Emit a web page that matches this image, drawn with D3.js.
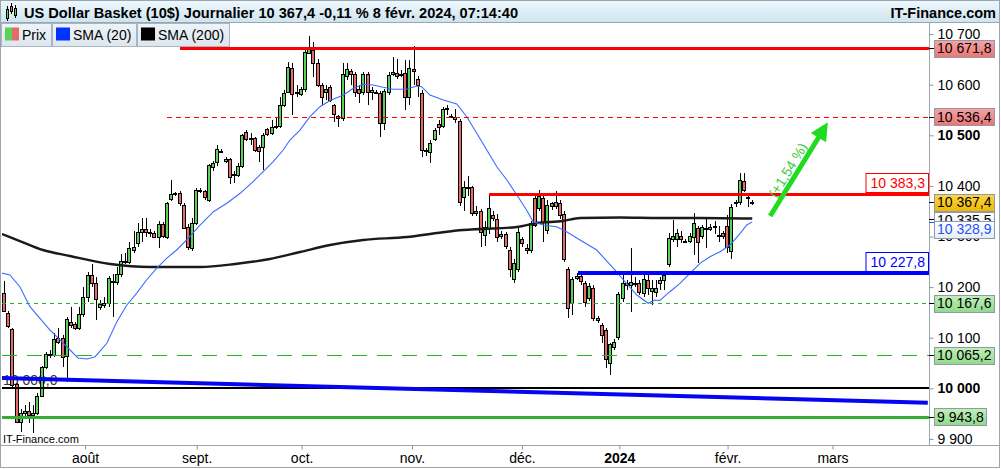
<!DOCTYPE html>
<html>
<head>
<meta charset="utf-8">
<script src="https://cdnjs.cloudflare.com/ajax/libs/d3/7.8.5/d3.min.js"></script>
<style>
  body { margin: 0; background: #fff; }
  svg { display: block; font-family: "Liberation Sans", Arial, sans-serif; }
</style>
</head>
<body>
<div id="chart"></div>
<script>
// daily candles, one slot per trading session (Sun-Fri sessions included)
var opens = [10187.6,10148.2,10117.2,10007.8,9934.0,9950.5,9955.0,9947.2,9950.5,9984.8,
  10041.4,10065.2,10065.2,10100.1,10100.1,10063.8,10131.0,10127.1,10118.5,10146.2,
  10181.1,10223.3,10208.8,10160.0,10164.6,10167.9,10212.7,10209.4,10225.9,10249.0,
  10250.2,10273.3,10286.5,10308.8,10314.0,10308.2,10306.2,10298.3,10324.0,10299.6,
  10374.1,10385.3,10385.3,10362.3,10319.4,10276.6,10326.0,10389.9,10389.9,10372.1,
  10438.0,10447.9,10469.6,10449.9,10452.5,10420.9,10421.6,10439.3,10505.9,10492.0,
  10494.0,10476.2,10476.2,10511.8,10503.9,10517.1,10519.0,10559.2,10586.2,10632.4,
  10583.0,10581.6,10590.8,10663.3,10669.0,10642.3,10599.5,10585.0,10594.8,10559.2,
  10538.7,10533.5,10617.9,10627.1,10620.5,10590.8,10586.2,10620.5,10586.0,10586.2,
  10582.9,10523.6,10586.2,10620.5,10622.5,10621.2,10622.5,10576.4,10630.4,10610.7,
  10583.0,10471.0,10467.7,10492.0,10521.6,10519.0,10553.3,10538.1,10536.8,10528.3,
  10378.8,10397.0,10397.2,10347.1,10351.0,10302.9,10316.1,10342.4,10333.9,10301.0,
  10304.3,10273.3,10215.3,10235.1,10294.4,10277.9,10273.3,10375.4,10355.6,10375.4,
  10313.8,10365.5,10360.3,10365.5,10343.8,10235.1,10167.9,10217.4,10222.6,10208.8,
  10177.8,10197.6,10139.6,10125.1,10115.2,10050.6,10081.0,10100.7,10177.8,10208.8,
  10204.2,10207.5,10207.5,10188.4,10214.0,10192.9,10191.0,10207.4,10214.0,10245.6,
  10294.4,10294.4,10301.0,10291.8,10291.8,10299.7,10316.1,10301.0,10316.1,10314.8,
  10319.4,10302.9,10306.3,10320.7,10272.0,10365.5,10368.8,10409.7,10378.8,10368.0];

var highs = [10212.7,10152.0,10120.0,10010.0,9958.4,9967.0,9973.6,9967.0,9990.1,10045.0,
  10072.0,10075.0,10110.0,10120.0,10105.0,10140.0,10160.0,10132.0,10160.0,10200.0,
  10230.0,10246.0,10220.0,10175.0,10180.0,10222.0,10225.0,10240.0,10265.0,10268.0,
  10290.0,10310.0,10327.3,10336.0,10336.5,10315.0,10310.0,10330.0,10328.0,10368.8,
  10411.7,10388.0,10390.0,10366.0,10325.0,10336.0,10395.0,10395.0,10392.0,10444.0,
  10450.0,10480.9,10472.0,10458.0,10455.0,10430.0,10445.0,10503.0,10509.8,10505.0,
  10497.0,10480.0,10505.0,10515.0,10530.0,10535.0,10575.0,10590.0,10645.0,10642.3,
  10600.0,10596.0,10668.0,10696.3,10685.1,10650.0,10603.0,10600.0,10600.0,10562.0,
  10541.0,10642.3,10643.0,10632.0,10625.0,10600.0,10625.0,10625.0,10596.0,10590.0,
  10588.0,10592.0,10625.0,10655.4,10650.0,10630.0,10648.0,10648.9,10676.4,10618.0,
  10590.0,10475.0,10490.0,10515.0,10530.0,10555.0,10560.0,10542.0,10552.0,10533.0,
  10410.0,10420.0,10400.0,10360.0,10355.0,10330.0,10382.0,10350.0,10345.0,10310.0,
  10308.0,10280.0,10255.0,10320.0,10300.0,10285.0,10330.0,10385.0,10391.9,10385.0,
  10372.0,10368.0,10390.0,10372.0,10350.0,10240.0,10220.0,10228.0,10228.0,10212.0,
  10208.0,10205.0,10142.0,10130.0,10120.0,10090.0,10098.0,10190.0,10232.0,10215.0,
  10276.6,10220.0,10215.0,10225.0,10225.0,10215.0,10215.0,10220.0,10228.5,10306.3,
  10332.6,10315.0,10310.0,10296.0,10306.0,10345.8,10320.0,10322.0,10337.9,10325.0,
  10330.0,10320.0,10311.0,10342.5,10365.0,10372.0,10424.8,10424.8,10383.0,10372.3];

var lows = [10150.0,10120.0,10003.0,9930.8,9914.4,9945.0,9930.8,9911.1,9947.0,9982.0,
  10038.0,10060.0,10062.0,10088.0,10042.8,10013.1,10120.0,10115.0,10115.0,10140.0,
  10170.0,10200.0,10135.0,10155.0,10158.0,10160.0,10141.5,10205.0,10220.0,10245.0,
  10245.0,10268.0,10280.0,10290.0,10300.0,10300.0,10296.3,10276.6,10298.0,10296.0,
  10370.0,10380.0,10360.0,10315.0,10274.0,10272.0,10322.0,10385.0,10372.1,10368.0,
  10430.0,10440.0,10466.0,10445.0,10403.8,10405.0,10418.0,10436.0,10488.0,10480.0,
  10466.3,10447.9,10431.4,10498.0,10500.0,10512.0,10515.0,10555.0,10583.0,10540.1,
  10575.0,10578.0,10585.0,10660.0,10615.9,10595.0,10559.9,10570.0,10565.0,10526.0,
  10516.8,10528.0,10610.0,10600.0,10575.0,10563.0,10580.0,10559.9,10570.0,10582.0,
  10497.4,10510.0,10580.0,10617.0,10612.0,10615.0,10550.0,10560.0,10600.0,10575.0,
  10457.8,10460.0,10446.0,10488.0,10500.0,10515.0,10540.0,10534.0,10525.0,10360.0,
  10350.0,10380.0,10340.0,10340.0,10279.8,10282.0,10305.0,10330.0,10290.0,10295.0,
  10275.0,10220.0,10207.5,10230.0,10280.0,10265.0,10268.0,10318.0,10350.0,10290.0,
  10305.0,10352.0,10355.0,10335.0,10250.0,10138.3,10144.9,10215.0,10205.0,10160.0,
  10172.0,10133.0,10130.0,10088.9,10039.4,10026.3,10075.0,10095.0,10170.0,10195.0,
  10151.4,10200.0,10185.0,10180.0,10185.0,10165.0,10180.0,10195.0,10194.3,10240.4,
  10290.0,10280.0,10288.0,10287.0,10288.0,10263.4,10246.9,10296.0,10276.6,10310.0,
  10305.0,10290.0,10295.0,10266.7,10254.9,10358.0,10362.0,10388.0,10359.0,10362.4];

var closes = [10152.7,10123.1,10006.5,9932.7,9951.8,9955.7,9947.2,9950.5,9984.8,10041.4,
  10067.8,10067.8,10096.8,10092.2,10062.5,10136.3,10124.5,10118.5,10146.8,10181.1,
  10223.3,10208.8,10175.8,10165.9,10167.9,10217.3,10210.1,10225.9,10251.6,10251.6,
  10276.6,10279.9,10309.5,10314.0,10309.5,10306.2,10299.6,10324.0,10301.6,10366.9,
  10383.3,10383.3,10365.6,10317.5,10279.9,10327.3,10391.9,10391.9,10378.7,10441.3,
  10444.6,10472.3,10469.0,10452.5,10416.9,10423.5,10439.3,10500.0,10492.0,10494.0,
  10470.9,10469.6,10500.0,10501.9,10517.1,10519.0,10559.2,10583.0,10634.4,10581.6,
  10586.0,10590.8,10663.9,10669.8,10643.6,10599.5,10576.4,10592.0,10569.8,10541.4,
  10533.5,10620.5,10630.4,10620.5,10584.9,10584.2,10620.5,10586.2,10590.0,10586.2,
  10523.6,10588.2,10619.2,10625.8,10617.9,10621.2,10575.1,10632.4,10627.8,10599.5,
  10471.0,10469.0,10484.2,10510.5,10517.1,10551.3,10553.3,10538.1,10531.6,10367.5,
  10398.5,10398.0,10347.1,10351.0,10308.2,10319.4,10355.6,10335.8,10298.3,10304.9,
  10281.2,10235.1,10246.9,10309.5,10286.5,10273.3,10326.0,10322.7,10380.0,10329.3,
  10361.9,10360.3,10368.8,10342.4,10254.9,10158.0,10215.3,10222.6,10212.7,10171.2,
  10202.2,10138.3,10135.0,10105.3,10057.2,10086.9,10092.2,10185.7,10208.8,10204.2,
  10209.4,10207.5,10191.0,10215.3,10197.6,10197.6,10197.6,10214.0,10223.9,10296.4,
  10301.0,10306.3,10294.4,10291.8,10301.0,10326.0,10288.5,10318.1,10316.1,10319.4,
  10320.7,10302.9,10301.0,10279.9,10359.0,10368.8,10411.7,10391.9,10378.8,10367.4];

// moving averages (slot index, value)
var sma20Idx = [-1,1.4,3.8,6.2,8.6,11,13.4,15.8,17.7,19.9,21.8,24.6,27,29.4,31.7,34.1,36.5,38.9,41.3,43.7,
  46.9,50.1,53.3,56.5,59.6,62,64.4,66.8,68.4,70.8,73.2,75.6,78,81.2,83.6,86,88.3,90.7,93.1,96.3,
  98.7,99.9,101.9,105.1,108.3,110.7,113.1,115.5,117.9,120.3,122.7,125,126.6,129,132.2,134.6,137.8,141.8,145.8,148.2,
  151.4,154.1,155.7,156.9,159.3,161.7,164.1,166.5,168.9,171.3,173.7,176.1,177.7,179];
var sma20Val = [10228.5,10223.9,10200.8,10161.3,10138.3,10115.2,10095.5,10075.7,10059.9,10057.9,10062.5,10088.9,10131.6,10164.6,10187.7,10214,10237.2,10256.9,10273.3,10293.1,
  10322.7,10349,10365.6,10385.4,10408.3,10428.1,10447.8,10470.9,10490.7,10510.4,10536.7,10556.5,10568.8,10579.6,10592.9,10600.8,10599.4,10594.9,10590.9,10590.9,
  10597.4,10596,10579.6,10569.7,10561.8,10536.7,10503.9,10470.9,10437.9,10411.6,10382,10352.3,10329.2,10322.7,10319.4,10309.5,10293.1,10273.3,10237.2,10214,
  10184.4,10168,10174.5,10173.5,10190.9,10207.5,10227.3,10247,10260.1,10270,10283.2,10306.3,10322.7,10328.9];

var sma200Idx = [-0.5,3.8,9.3,15.8,25.4,34.9,46.9,55.3,63.6,70.8,78,85.9,96.4,103.6,109.8,113.9,122.7,127.5,133.7,137.8,147.4,156.9,166.5,179];
var sma200Val = [10304.9,10291,10273.3,10261.4,10245.6,10239.7,10239.7,10245.6,10255.5,10269.3,10283.2,10293.1,10299,10306.9,10312.8,10314.8,10318.8,10326.7,10330.6,10336.5,10337.5,10336.5,10336.5,10335.5];

var monthIdx = [19.4, 46.1, 71.2, 97.6, 123.9, 147.2, 173.1, 198.2];
var monthLabels = ["août", "sept.", "oct.", "nov.", "déc.", "2024", "févr.", "mars"];
var yTicks = [9900, 10000, 10100, 10200, 10300, 10400, 10500, 10600, 10700];

var levels = [10671.8, 10536.4, 10383.3, 10227.8, 10167.6, 10065.2, 10000, 9943.8];
var levelStart = [42.1, 38.9, 116.1, 137.2, -1, -1, -1, -1];

var trendIdx = [-1, 221];
var trendVals = [10020.4, 9971.5];

var arrowIdx = [183.3, 197.1];
var arrowVals = [10340.5, 10525.7];
var arrowText = "(+1,54 %)";

var axisLabelVals = [10671.8, 10536.4, 10367.4, 10335.5, 10328.9, 10167.6, 10065.2, 9943.8];
var axisLabelKinds = ["res", "res", "price", "sma200", "sma20", "sup", "sup", "sup"];

var title = "US Dollar Basket (10$) Journalier 10 367,4 -0,11 % 8 févr. 2024, 07:14:40";

var width = 1001, height = 469;
var plotLeft = 2, plotRight = 929, plotTop = 23, plotBottom = 445;
var green = "#5ad25a", red = "#e56b6b";

var x = d3.scaleLinear().domain([0, 221]).range([4, 927.8]);
var y = d3.scaleLinear().domain([9900, 10700]).range([438.9, 34.1]);

var loc = d3.formatLocale({decimal: ",", thousands: " ", grouping: [3], currency: ["", ""]});
var fmt0 = loc.format(",.0f"), fmt1 = loc.format(",.1f");

var svg = d3.select("#chart").append("svg")
    .attr("width", width)
    .attr("height", height);
var defs = svg.append("defs");

function vgrad(id, c0, c1) {
    var g = defs.append("linearGradient").attr("id", id)
        .attr("x1", 0).attr("y1", 0).attr("x2", 0).attr("y2", 1);
    g.append("stop").attr("offset", "0%").attr("stop-color", c0);
    g.append("stop").attr("offset", "100%").attr("stop-color", c1);
}
vgrad("gHead", "#eef8fd", "#cde4ef");
vgrad("gLeg", "#eef4f8", "#dce6ed");
vgrad("gRed", "#f6a5a5", "#ec7474");
vgrad("gYel", "#fbd54a", "#efb700");
vgrad("gGrn", "#c2efba", "#8fd98a");
vgrad("gWht", "#ffffff", "#e7eef3");

defs.append("clipPath").attr("id", "clip").append("rect")
    .attr("x", plotLeft).attr("y", plotTop)
    .attr("width", plotRight - plotLeft).attr("height", plotBottom - plotTop);

// frame
svg.append("rect").attr("x", 0.5).attr("y", 0.5).attr("width", 999).attr("height", 467)
    .attr("fill", "#fff").attr("stroke", "#9aa6b0");

var plot = svg.append("g").attr("clip-path", "url(#clip)");

plot.append("text").attr("x", 3).attr("y", 385).attr("font-size", 14)
    .attr("fill", "#333").text(fmt1(10000));

// candles
var candles = closes.map(function (c, i) {
    return {i: i, o: opens[i], h: highs[i], l: lows[i], c: c};
});
function px(i) { return Math.round(x(i)) + 0.5; }

plot.append("g").selectAll("line").data(candles).enter().append("line")
    .attr("x1", function (d) { return px(d.i); })
    .attr("x2", function (d) { return px(d.i); })
    .attr("y1", function (d) { return Math.round(y(d.h)); })
    .attr("y2", function (d) { return Math.round(y(d.l)); })
    .attr("stroke", "#000");

plot.append("g").selectAll("rect").data(candles).enter().append("rect")
    .attr("x", function (d) { return px(d.i) - 2; })
    .attr("y", function (d) { return Math.round(y(Math.max(d.o, d.c))) + 0.5; })
    .attr("width", 3)
    .attr("height", function (d) {
        return Math.max(1, Math.round(y(Math.min(d.o, d.c))) - Math.round(y(Math.max(d.o, d.c))));
    })
    .attr("fill", function (d) { return d.c >= d.o ? green : red; })
    .attr("stroke", "#000");

// moving averages
var line = d3.line().x(function (d) { return x(d[0]); }).y(function (d) { return y(d[1]); });
plot.append("path").datum(d3.zip(sma200Idx, sma200Val))
    .attr("d", line.curve(d3.curveMonotoneX))
    .attr("fill", "none").attr("stroke", "#1a1a1a").attr("stroke-width", 2.4);
plot.append("path").datum(d3.zip(sma20Idx, sma20Val))
    .attr("d", line.curve(d3.curveLinear))
    .attr("fill", "none").attr("stroke", "#3b6cff").attr("stroke-width", 1.1);

// horizontal levels
var levelStyle = [
    {c: "#ff0000", w: 3, dash: null},
    {c: "#ff0000", w: 1, dash: "5,4"},
    {c: "#ff0000", w: 3, dash: null},
    {c: "#0000ff", w: 4, dash: null},
    {c: "#22b422", w: 1, dash: "4,4"},
    {c: "#22b422", w: 1, dash: "15,10"},
    {c: "#000000", w: 2, dash: null},
    {c: "#36ad36", w: 3, dash: null}
];
function lineY(v, w) { return w % 2 ? Math.round(y(v)) + 0.5 : Math.round(y(v)); }

plot.append("g").selectAll("line").data(levels).enter().append("line")
    .attr("x1", function (d, k) { return levelStart[k] < 0 ? plotLeft : x(levelStart[k]); })
    .attr("x2", plotRight)
    .attr("y1", function (d, k) { return lineY(d, levelStyle[k].w); })
    .attr("y2", function (d, k) { return lineY(d, levelStyle[k].w); })
    .attr("stroke", function (d, k) { return levelStyle[k].c; })
    .attr("stroke-width", function (d, k) { return levelStyle[k].w; })
    .attr("stroke-dasharray", function (d, k) { return levelStyle[k].dash; })
    .attr("shape-rendering", "crispEdges");

// trend line
plot.append("line")
    .attr("x1", x(trendIdx[0])).attr("y1", y(trendVals[0]))
    .attr("x2", x(trendIdx[1])).attr("y2", y(trendVals[1]))
    .attr("stroke", "#0505f0").attr("stroke-width", 4);

// boxed labels for the two drawn levels
[[2, "#ff0000"], [3, "#0000ff"]].forEach(function (p) {
    var v = levels[p[0]];
    var yl = Math.round(y(v)) - 1;
    var g = svg.append("g");
    var t = g.append("text").attr("x", plotRight - 4).attr("y", yl - 5)
        .attr("text-anchor", "end").attr("font-size", 14).attr("fill", p[1]).text(fmt1(v));
    var tw = t.node().getComputedTextLength();
    g.insert("rect", "text").attr("x", plotRight - tw - 8.5).attr("y", yl - 19.5)
        .attr("width", tw + 8).attr("height", 19)
        .attr("fill", "#fff").attr("stroke", p[1]);
});

// target arrow
var a0 = [x(arrowIdx[0]), y(arrowVals[0])], a1 = [x(arrowIdx[1]), y(arrowVals[1])];
var alen = Math.hypot(a1[0] - a0[0], a1[1] - a0[1]);
var aang = Math.atan2(a1[1] - a0[1], a1[0] - a0[0]) * 180 / Math.PI;
var ag = svg.append("g").attr("transform", "translate(" + a0[0] + "," + a0[1] + ") rotate(" + aang + ")");
ag.append("line").attr("x1", 0).attr("y1", 0).attr("x2", alen - 14).attr("y2", 0)
    .attr("stroke", "#1fdc1f").attr("stroke-width", 5);
ag.append("path").attr("d", "M" + alen + ",0 L" + (alen - 18) + ",-9 L" + (alen - 18) + ",9 Z")
    .attr("fill", "#1fdc1f");
ag.append("text").attr("x", alen * 0.44).attr("y", -4).attr("text-anchor", "middle")
    .attr("font-size", 14).attr("fill", "#3ccc3c").text(arrowText);

// watermark
svg.append("text").attr("x", 3).attr("y", 443).attr("font-size", 11).text("IT-Finance.com");

// axes
svg.append("line").attr("x1", plotRight + 0.5).attr("x2", plotRight + 0.5)
    .attr("y1", plotTop).attr("y2", plotBottom).attr("stroke", "#9aa6b0");
svg.append("line").attr("x1", 1).attr("x2", 999).attr("y1", plotBottom + 0.5).attr("y2", plotBottom + 0.5)
    .attr("stroke", "#9aa6b0");

var ya = svg.append("g").attr("transform", "translate(" + (plotRight + 0.5) + ",0)")
    .call(d3.axisRight(y).tickValues(yTicks).tickSize(4).tickPadding(4).tickFormat(fmt0));
ya.attr("font-family", null).attr("font-size", 14);
ya.select(".domain").remove();
ya.selectAll("line").attr("stroke", "#8796a3");
ya.selectAll("text").attr("fill", "#000")
    .attr("font-weight", function (d) { return (d === 10500 || d === 10000) ? "bold" : null; });

var xa = svg.append("g").attr("transform", "translate(0," + (plotBottom + 0.5) + ")")
    .call(d3.axisBottom(x).tickValues(monthIdx).tickSize(4).tickPadding(4)
        .tickFormat(function (d, i) { return monthLabels[i]; }));
xa.attr("font-family", null).attr("font-size", 14);
xa.select(".domain").remove();
xa.selectAll("line").attr("stroke", "#8796a3");
xa.selectAll("text").attr("fill", "#000")
    .attr("font-weight", function (d, i) { return monthLabels[i] === "2024" ? "bold" : null; });

// value boxes on the price scale
var fills = {res: "url(#gRed)", price: "url(#gYel)", sma200: "url(#gWht)", sma20: "url(#gWht)", sup: "url(#gGrn)"};
var inks = {res: "#000", price: "#000", sma200: "#000", sma20: "#1f4fff", sup: "#000"};
var prevTop = -100, prevKind = null;
axisLabelVals.forEach(function (v, k) {
    var kind = axisLabelKinds[k];
    var top = y(v) - 8.5;
    var gap = prevKind === "price" ? 18 : 9;
    if (prevKind && top < prevTop + gap) top = prevTop + gap;
    prevTop = top; prevKind = kind;
    var g = svg.append("g");
    g.append("line").attr("x1", plotRight).attr("x2", plotRight + 5)
        .attr("y1", Math.round(y(v)) + 0.5).attr("y2", Math.round(y(v)) + 0.5)
        .attr("stroke", kind === "sma20" ? "#1f4fff" : "#000");
    var t = g.append("text").attr("x", 937).attr("y", top + 13.5)
        .attr("font-size", 14).attr("fill", inks[kind]).text(fmt1(v));
    var tw = t.node().getComputedTextLength();
    g.insert("rect", "text").attr("x", 934.5).attr("y", Math.round(top) + 0.5)
        .attr("width", Math.round(tw) + 5).attr("height", 17)
        .attr("fill", fills[kind]).attr("stroke", "#8e9ba6");
});

// header
svg.append("rect").attr("x", 0.5).attr("y", 0.5).attr("width", 999).attr("height", 22)
    .attr("fill", "url(#gHead)").attr("stroke", "#9aa6b0");
var icon = svg.append("g");
[[6, 9, 14, green], [10, 6, 10, red], [14, 8, 12, green]].forEach(function (c) {
    icon.append("line").attr("x1", c[0] + 1.5).attr("x2", c[0] + 1.5).attr("y1", c[1] - 3).attr("y2", c[1] + c[2] - 2)
        .attr("stroke", "#000");
    icon.append("rect").attr("x", c[0] + 0.5).attr("y", c[1] + 0.5).attr("width", 2).attr("height", c[2] - 5)
        .attr("fill", c[3]).attr("stroke", "#000");
});
svg.append("text").attr("x", 24).attr("y", 17.5).attr("font-size", 14.6).attr("font-weight", "bold")
    .text(title);
svg.append("text").attr("x", 996).attr("y", 17.5).attr("font-size", 14.5).attr("font-weight", "bold")
    .attr("text-anchor", "end").text("IT-Finance.com");

// legend
var legNames = ["Prix", "SMA (20)", "SMA (200)"];
var legColors = [null, "#0033ff", "#000"];
var lx = 1.5;
legNames.forEach(function (name, k) {
    var g = svg.append("g");
    var t = g.append("text").attr("x", lx + 20.5).attr("y", 40).attr("font-size", 14).text(name);
    var tw = t.node().getComputedTextLength();
    var bw = Math.round(tw + 26);
    g.insert("rect", "text").attr("x", lx).attr("y", 23.5).attr("width", bw).attr("height", 23)
        .attr("fill", "url(#gLeg)").attr("stroke", "#a7b6c2");
    if (k === 0) {
        g.append("rect").attr("x", lx + 3.5).attr("y", 27.5).attr("width", 7).attr("height", 13).attr("fill", green);
        g.append("rect").attr("x", lx + 10.5).attr("y", 27.5).attr("width", 7).attr("height", 13).attr("fill", red);
    } else {
        g.append("rect").attr("x", lx + 3.5).attr("y", 27.5).attr("width", 14).attr("height", 13).attr("fill", legColors[k]);
    }
    lx += bw + 1;
});
</script>
</body>
</html>
